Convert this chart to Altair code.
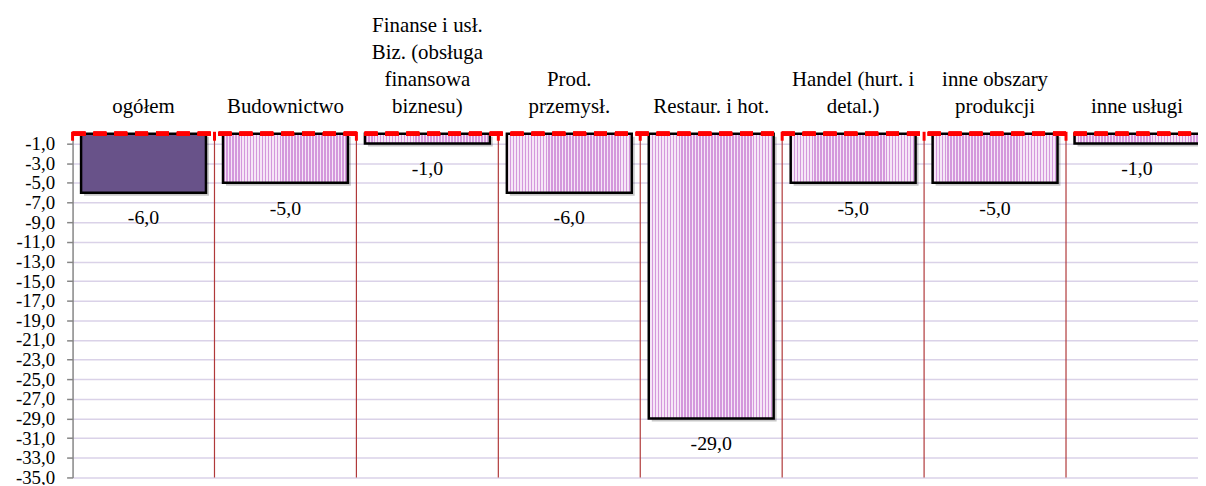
import altair as alt
import pandas as pd

categories = ["ogółem", "Budownictwo", "Finanse i usł. Biz.", "Prod. przemysł.",
              "Restaur. i hot.", "Handel", "inne obszary produkcji", "inne usługi"]
labels = ["ogółem", "Budownictwo", "Finanse i usł.\nBiz. (obsługa\nfinansowa\nbiznesu)",
          "Prod.\nprzemysł.", "Restaur. i hot.", "Handel (hurt. i\ndetal.)",
          "inne obszary\nprodukcji", "inne usługi"]
values = [-6.0, -5.0, -1.0, -6.0, -29.0, -5.0, -5.0, -1.0]
y_ticks = [-1, -3, -5, -7, -9, -11, -13, -15, -17, -19, -21, -23, -25, -27, -29, -31, -33, -35]

df = pd.DataFrame({"cat": categories, "val": values})

# one row per label line, k = line index counted from the bottom line
rows = []
for c, lab in zip(categories, labels):
    parts = lab.split("\n")
    for i, p in enumerate(parts):
        rows.append({"cat": c, "line": p, "k": len(parts) - 1 - i})
lines_df = pd.DataFrame(rows)

W = 1133
RANGE = 1143
H = 346
HALF = RANGE / len(categories) / 2
FONT = "'Liberation Serif', 'Times New Roman', serif"
FMT = "replace(replace(format(datum.{f}, '.1f'), '.', ','), '\u2212', '-')"

# vertical stripe gradient for the pink bars
N = 42
stops = []
for i in range(N):
    stops += [
        {"offset": i / N, "color": "#D498DC"},
        {"offset": (i + 0.55) / N, "color": "#D498DC"},
        {"offset": (i + 0.55) / N, "color": "#F6E6F7"},
        {"offset": (i + 1) / N, "color": "#F6E6F7"},
    ]
stripe = {"gradient": "linear", "x1": 0, "x2": 1, "y1": 0, "y2": 0, "stops": stops}

xs = alt.X("cat:N", sort=categories,
           scale=alt.Scale(range=[0, RANGE], paddingInner=0.12, paddingOuter=0.06),
           axis=None)
ys = alt.Y("val:Q",
           scale=alt.Scale(domain=[-35, 0], nice=False, zero=True),
           axis=alt.Axis(values=y_ticks, title=None, grid=True,
                         gridColor="#DAD2E8", gridWidth=1.5,
                         domainColor="#868686", domainWidth=1.5,
                         tickColor="#868686", tickSize=6, tickWidth=1.5,
                         labelFont=FONT, labelFontSize=19, labelColor="#000",
                         labelPadding=12,
                         labelExpr=FMT.format(f="value")))

base = alt.Chart(df)

bounds = base.mark_rule(color="#B0393A", strokeWidth=1.2, xOffset=HALF).encode(
    x=xs, y=alt.value(0), y2=alt.value(H))

caps = base.mark_rule(color="#FF0000", strokeWidth=3, xOffset=HALF).encode(
    x=xs, y=alt.value(-2), y2=alt.value(7))
cap0 = base.transform_filter(alt.datum.cat == "ogółem").mark_rule(
    color="#FF0000", strokeWidth=3, xOffset=-HALF).encode(
    x=xs, y=alt.value(-2), y2=alt.value(7))

shadow = base.mark_bar(color="#000000", opacity=0.22, xOffset=3, x2Offset=3,
                       yOffset=3, y2Offset=3).encode(x=xs, y=ys)

bar_main = base.transform_filter(alt.datum.cat == "ogółem").mark_bar(
    color="#685289", stroke="#000000", strokeWidth=2.5).encode(x=xs, y=ys)

bar_rest = base.transform_filter(alt.datum.cat != "ogółem").mark_bar(
    color=stripe, stroke="#000000", strokeWidth=2.5).encode(x=xs, y=ys)

redline = base.mark_rule(color="#FF0000", strokeWidth=4, strokeDash=[13, 8]).encode(
    y=alt.value(0), x=alt.value(0), x2=alt.value(RANGE))

vals = base.transform_calculate(t=FMT.format(f="val")).mark_text(
    baseline="middle", dy=26, font=FONT, fontSize=20, color="#000").encode(
    x=xs, y=ys, text="t:N")

line_layers = []
for k in range(4):
    line_layers.append(
        alt.Chart(lines_df).transform_filter(alt.datum.k == k).mark_text(
            baseline="alphabetic", font=FONT, fontSize=21, color="#000").encode(
            x=xs, y=alt.value(-21 - 27 * k), text="line:N")
    )

chart = alt.layer(bounds, shadow, bar_main, bar_rest, redline, caps, cap0, vals,
                  *line_layers).properties(
    width=W, height=H,
    autosize=alt.AutoSizeParams(type="none"),
    padding={"left": 65, "top": 125, "right": 0, "bottom": 6},
).configure_view(stroke=None)

chart.save("out.html", embed_options={"renderer": "svg", "actions": False})
